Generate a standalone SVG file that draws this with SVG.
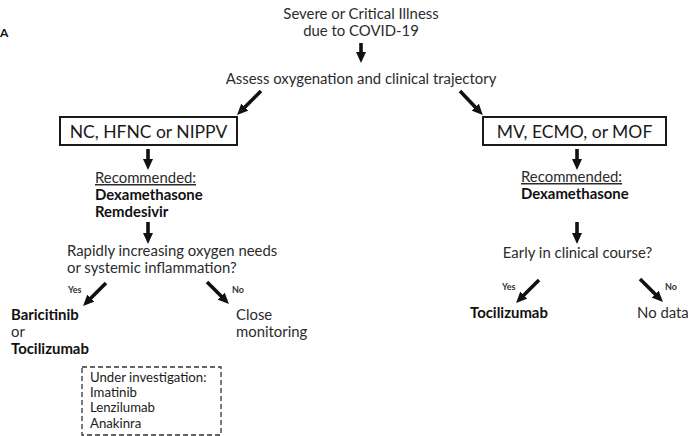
<svg xmlns="http://www.w3.org/2000/svg" width="688" height="436" viewBox="0 0 688 436">
<defs>
<style>
text{font-family:Lato,"Open Sans","Noto Sans",sans-serif;fill:#2b2b2b;font-size:14.9px}
.b{font-weight:bold;fill:#111}
.box{font-size:17.5px;fill:#1a1a1a}
.sm{font-size:9px;font-weight:bold;fill:#333}
.mid{text-anchor:middle}
.u{text-decoration:underline}
.inv{font-size:13.2px;fill:#1a1a1a}
rect.node{fill:#fff;stroke:#1a1a1a;stroke-width:2}
rect.dash{fill:none;stroke:#333;stroke-width:1.3;stroke-dasharray:5 3}
#connectors line{stroke:#111;stroke-width:3.6}
</style>
<marker id="ah" viewBox="0 0 11 10" refX="3" refY="5" markerWidth="11" markerHeight="10" markerUnits="userSpaceOnUse" orient="auto">
<path d="M0,0 L11,5 L0,10 z" fill="#111"/>
</marker>
</defs>
<rect width="688" height="436" fill="#fff"/>
<text x="0" y="37" class="b" style="font-size:12px">A</text>
<g id="start">
<text x="361" y="19" class="mid">Severe or Critical Illness</text>
<text x="361" y="36" class="mid">due to COVID-19</text>
</g>
<g id="assess">
<text x="361" y="84" class="mid">Assess oxygenation and clinical trajectory</text>
</g>
<g id="nc">
<rect class="node" x="60" y="117" width="177" height="28"/>
<text x="148.5" y="138" class="mid box">NC, HFNC or NIPPV</text>
</g>
<g id="mv">
<rect class="node" x="483" y="117" width="183" height="28"/>
<text x="574.5" y="138" class="mid box">MV, ECMO, or MOF</text>
</g>
<g id="rec-left">
<text x="95" y="183" class="u">Recommended:</text>
<text x="95" y="200" class="b">Dexamethasone</text>
<text x="95" y="217" class="b">Remdesivir</text>
</g>
<g id="rec-right">
<text x="521" y="182" class="u">Recommended:</text>
<text x="521" y="199" class="b">Dexamethasone</text>
</g>
<g id="rapid">
<text x="67" y="256">Rapidly increasing oxygen needs</text>
<text x="67" y="273">or systemic inflammation?</text>
</g>
<g id="early">
<text x="577.5" y="258" class="mid">Early in clinical course?</text>
</g>
<g id="bari">
<text x="11" y="320" class="b">Baricitinib</text>
<text x="11" y="337">or</text>
<text x="11" y="354" class="b">Tocilizumab</text>
</g>
<g id="close">
<text x="236" y="320">Close</text>
<text x="236" y="337">monitoring</text>
</g>
<g id="investigation">
<rect class="dash" x="82" y="367" width="139" height="68"/>
<text x="90" y="382" class="inv">Under investigation:</text>
<text x="90" y="397" class="inv">Imatinib</text>
<text x="90" y="412" class="inv">Lenzilumab</text>
<text x="90" y="428" class="inv">Anakinra</text>
</g>
<g id="toci-right">
<text x="470" y="318" class="b">Tocilizumab</text>
</g>
<g id="nodata">
<text x="637" y="318">No data</text>
</g>
<g id="connectors">
<line x1="361" y1="43" x2="361" y2="55" marker-end="url(#ah)"/>
<line x1="261" y1="91" x2="242.7" y2="109.3" marker-end="url(#ah)"/>
<line x1="460" y1="91" x2="477.3" y2="109.3" marker-end="url(#ah)"/>
<line x1="148" y1="149" x2="148" y2="162" marker-end="url(#ah)"/>
<line x1="577" y1="149" x2="577" y2="162" marker-end="url(#ah)"/>
<line x1="148" y1="222" x2="148" y2="236" marker-end="url(#ah)"/>
<line x1="106" y1="283" x2="88.7" y2="300.3" marker-end="url(#ah)"/>
<line x1="207" y1="282" x2="223.3" y2="298.3" marker-end="url(#ah)"/>
<line x1="577" y1="222" x2="577" y2="236" marker-end="url(#ah)"/>
<line x1="539" y1="280" x2="521.7" y2="297.3" marker-end="url(#ah)"/>
<line x1="640" y1="279" x2="657.3" y2="296.3" marker-end="url(#ah)"/>
<text x="68" y="293" class="sm">Yes</text>
<text x="232" y="293" class="sm">No</text>
<text x="502" y="290" class="sm">Yes</text>
<text x="665" y="290" class="sm">No</text>
</g>
</svg>
